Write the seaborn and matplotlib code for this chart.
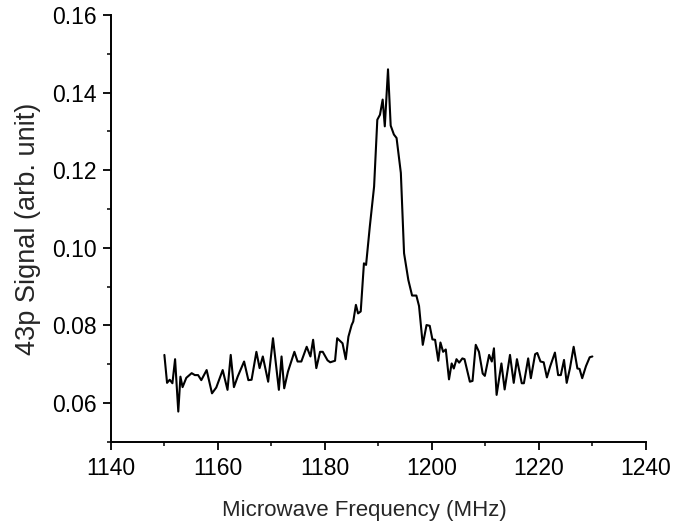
import matplotlib
matplotlib.use("Agg")
import matplotlib.pyplot as plt
import seaborn as sns
import pandas as pd
from matplotlib.ticker import MultipleLocator, FormatStrFormatter

freq = [1150.0, 1150.5, 1151.0, 1151.5, 1152.0, 1152.6, 1153.0, 1153.4, 1154.1, 1155.1,
        1155.7, 1156.3, 1156.9, 1157.9, 1158.9, 1159.7, 1160.9, 1161.8, 1162.4, 1163.0,
        1163.7, 1164.9, 1165.7, 1166.3, 1167.2, 1167.8, 1168.4, 1169.4, 1170.3, 1171.4,
        1171.9, 1172.4, 1173.1, 1174.3, 1174.9, 1175.6, 1176.6, 1177.3, 1177.8, 1178.4,
        1179.1, 1179.6, 1180.5, 1181.0, 1181.9, 1182.3, 1183.3, 1183.9, 1184.4, 1185.0,
        1185.3, 1185.8, 1186.2, 1186.7, 1187.3, 1187.7, 1188.4, 1189.2, 1189.8, 1190.3,
        1190.8, 1191.2, 1191.8, 1192.3, 1192.9, 1193.4, 1194.2, 1194.8, 1195.6, 1196.3,
        1197.1, 1197.6, 1198.3, 1199.0, 1199.6, 1200.1, 1200.6, 1201.2, 1201.6, 1202.1,
        1202.6, 1203.2, 1203.7, 1204.1, 1204.6, 1205.1, 1205.7, 1206.1, 1207.1, 1207.6,
        1208.2, 1208.8, 1209.5, 1209.9, 1210.7, 1211.2, 1211.6, 1212.1, 1213.0, 1213.6,
        1214.6, 1215.3, 1215.9, 1216.8, 1217.2, 1218.0, 1218.5, 1219.3, 1219.7, 1220.3,
        1220.9, 1221.5, 1222.1, 1223.0, 1223.6, 1224.1, 1224.7, 1225.2, 1225.8, 1226.5,
        1227.2, 1227.6, 1228.1, 1228.8, 1229.5, 1230.0]

signal = [0.0724, 0.0652, 0.0660, 0.0651, 0.0713, 0.0578, 0.0668, 0.0641, 0.0665, 0.0677,
          0.0672, 0.0672, 0.0659, 0.0685, 0.0625, 0.0640, 0.0685, 0.0634, 0.0724, 0.0641,
          0.0668, 0.0707, 0.0659, 0.0660, 0.0732, 0.0690, 0.0720, 0.0655, 0.0767, 0.0634,
          0.0720, 0.0638, 0.0681, 0.0732, 0.0707, 0.0707, 0.0745, 0.0720, 0.0763, 0.0690,
          0.0732, 0.0732, 0.0710, 0.0705, 0.0709, 0.0767, 0.0754, 0.0713, 0.0771, 0.0801,
          0.0810, 0.0853, 0.0831, 0.0836, 0.0960, 0.0956, 0.1055, 0.1158, 0.1330, 0.1343,
          0.1382, 0.1313, 0.1460, 0.1315, 0.1292, 0.1283, 0.1193, 0.0986, 0.0917, 0.0877,
          0.0877, 0.0850, 0.0750, 0.0801, 0.0799, 0.0764, 0.0763, 0.0709, 0.0756, 0.0732,
          0.0738, 0.0661, 0.0702, 0.0689, 0.0713, 0.0704, 0.0715, 0.0713, 0.0655, 0.0657,
          0.0750, 0.0732, 0.0676, 0.0670, 0.0724, 0.0707, 0.0741, 0.0621, 0.0702, 0.0635,
          0.0724, 0.0652, 0.0713, 0.0651, 0.0651, 0.0715, 0.0664, 0.0726, 0.0729, 0.0707,
          0.0705, 0.0666, 0.0694, 0.0730, 0.0672, 0.0672, 0.0711, 0.0652, 0.0689, 0.0745,
          0.0689, 0.0688, 0.0664, 0.0695, 0.0718, 0.0720]

x_label = "Microwave Frequency (MHz)"
y_label = "43p Signal (arb. unit)"

df = pd.DataFrame({"freq": freq, "signal": signal})

sns.set_style("ticks")
plt.rcParams['font.family'] = ['Liberation Sans', 'DejaVu Sans']

fig = plt.figure(figsize=(6.93, 5.26), dpi=100)
ax = fig.add_axes([0.160, 0.160, 0.772, 0.8115])
sns.lineplot(data=df, x="freq", y="signal", estimator=None, sort=False,
             color="black", linewidth=1.5, ax=ax)

ax.set_xlim(1140, 1240)
ax.set_ylim(0.05, 0.16)
ax.xaxis.set_major_locator(MultipleLocator(20))
ax.xaxis.set_minor_locator(MultipleLocator(10))
ax.yaxis.set_major_locator(MultipleLocator(0.02))
ax.yaxis.set_minor_locator(MultipleLocator(0.01))
ax.yaxis.set_major_formatter(FormatStrFormatter('%.2f'))
ax.set_yticks([0.06, 0.08, 0.10, 0.12, 0.14, 0.16])

for s in ["top", "right"]:
    ax.spines[s].set_visible(False)
for s in ["left", "bottom"]:
    ax.spines[s].set_linewidth(1.4)
    ax.spines[s].set_color("black")

ax.tick_params(axis="both", which="major", direction="out", length=6, width=1.3,
               labelsize=16.5, colors="black", pad=4)
ax.tick_params(axis="x", which="major", pad=5)
ax.tick_params(axis="both", which="minor", direction="out", length=3.2, width=1.1,
               colors="black")
ax.set_xlabel(x_label, fontsize=16, labelpad=14, x=0.473)
ax.set_ylabel(y_label, fontsize=19.5, labelpad=8)

fig.savefig("out.png", dpi=100, facecolor="white")
